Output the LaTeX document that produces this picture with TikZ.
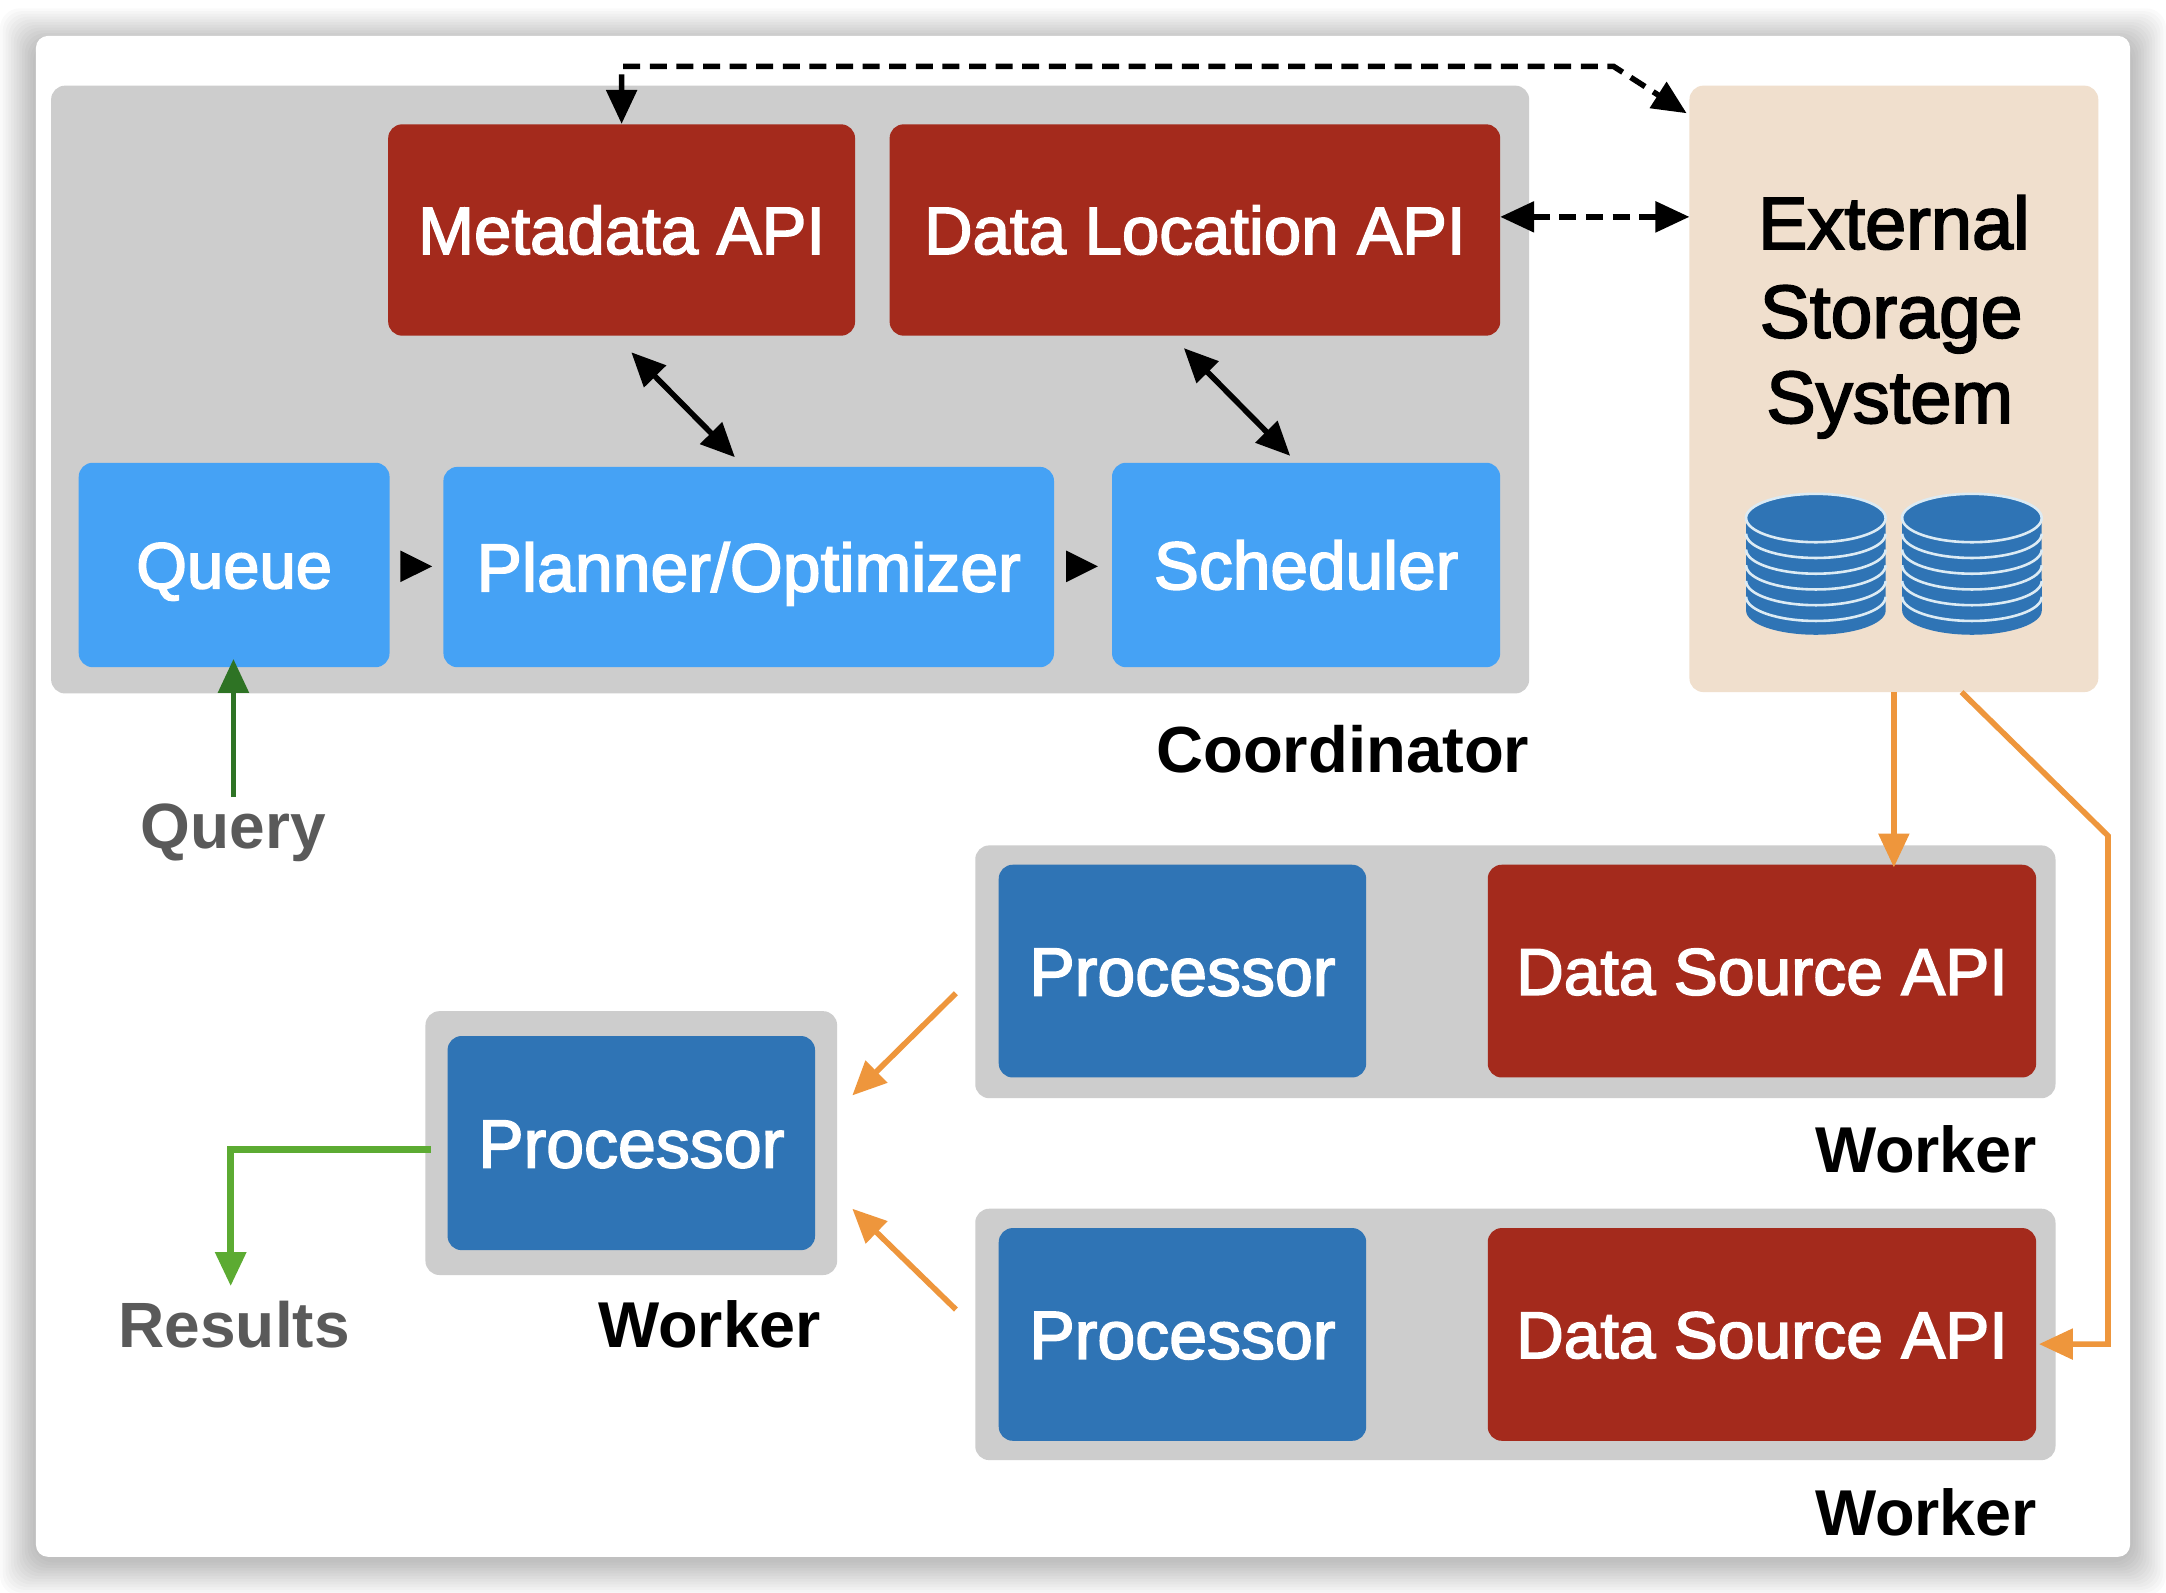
\documentclass[tikz,border=0pt]{standalone}
\usepackage{fontspec}
\setmainfont{Liberation Sans}
\newfontfamily\boxfont[FakeBold=2.4]{Liberation Sans}
\newfontfamily\headfont{Liberation Sans Bold}
\usetikzlibrary{arrows.meta,calc}
\definecolor{panelgray}{HTML}{CDCDCD}
\definecolor{apired}{HTML}{A42A1C}
\definecolor{skyblue}{HTML}{45A2F5}
\definecolor{deepblue}{HTML}{2F74B5}
\definecolor{sand}{HTML}{F0DFCD}
\definecolor{flow}{HTML}{EE963C}
\definecolor{querygreen}{HTML}{2E7324}
\definecolor{resultgreen}{HTML}{5CAB32}
\definecolor{mutedtext}{HTML}{5A5A5A}
\definecolor{diskline}{HTML}{DCEBF4}
\def\u{0.6907pt}
\tikzset{
  x=\u, y=-\u,
  sz/.style 2 args={minimum width=#1*\u, minimum height=#2*\u, inner sep=0pt},
  panel/.style={fill=panelgray, rounded corners=7pt},
  block/.style={rounded corners=7pt, text=white},
  ts/.style={font=\boxfont\fontsize{#1}{40}\selectfont, text height=0.716*#1*1pt, text depth=0pt},
  apibox/.style={block, fill=apired},
  lightbox/.style={block, fill=skyblue},
  procbox/.style={block, fill=deepblue},
  storebox/.style={fill=sand, rounded corners=7pt},
  caption/.style={inner sep=0pt, font=\headfont\fontsize{#1}{38}\selectfont, text height=0.716*#1*1pt, text depth=0pt},
  storetext/.style={inner sep=0pt, ts=#1},
  tip/.tip={Triangle[length=17pt,width=15pt]},
  link/.style={line width=2.8pt, draw=black},
  dashlink/.style={link, dash pattern=on 8.5pt off 4.8pt},
  flowline/.style={line width=2.8pt, draw=flow, -tip},
  diskarc/.style={draw=diskline, line width=1.3pt},
  rim/.style={start angle=#1, delta angle=180, x radius=34.9pt, y radius=12.1pt},
}
\begin{document}
\begin{tikzpicture}
\useasboundingbox (0,0) rectangle (1568,1152.5);
% page and soft card edge
\fill[white] (0,0) rectangle (1568,1152.5);
\foreach \g in {26,24,...,2}{
  \fill[black, opacity=0.018, rounded corners=10pt] (26-\g,32-\g) rectangle (1542+\g,1129+\g);
}
\fill[white, rounded corners=6pt] (26,26) rectangle (1542,1127);

% enclosing panels
\node[panel, sz={1070}{440}] (coord) at (572,282) {};
\node[panel, sz={782}{183}] (wone) at (1097,703.5) {};
\node[panel, sz={782}{182}] (wtwo) at (1097,966) {};
\node[panel, sz={298}{191}] (wthree) at (457,827.5) {};
\node[storebox, sz={296}{439}] (ext) at (1371,281.5) {};

% coordinator blocks
\node[apibox, ts=33.6, sz={338}{153}] (meta) at (450,166.5) {Metadata API};
\node[apibox, ts=33.6, sz={442}{153}] (dloc) at (865,166.5) {Data Location API};
\node[lightbox, ts=32.6, sz={225}{148}] (queue) at (169.5,409) {Queue};
\node[lightbox, ts=34, sz={442}{145}] (plan) at (542,410.5) {Planner/Optimizer};
\node[lightbox, ts=33.8, sz={281}{148}] (sched) at (945.5,409) {Scheduler};

% worker blocks
\node[procbox, ts=34, sz={266}{154}] (pone) at (856,703) {Processor};
\node[apibox, ts=33, sz={397}{154}] (dsone) at (1275.5,703) {Data Source API};
\node[procbox, ts=34, sz={266}{154}] (ptwo) at (856,966) {Processor};
\node[apibox, ts=33, sz={397}{154}] (dstwo) at (1275.5,966) {Data Source API};
\node[procbox, ts=34, sz={266}{155}] (pthree) at (457,827.5) {Processor};

% captions
\node[caption=32.6] (lcoord) at (972,542) {Coordinator};
\node[caption=32.4, anchor=east] (lwone) at (1475,832) {Worker};
\node[caption=32.4, anchor=east] (lwtwo) at (1475,1095) {Worker};
\node[caption=32.4] (lwthree) at (513.5,959) {Worker};
\node[caption=32, text=mutedtext] (lquery) at (169,598) {Query};
\node[caption=32, text=mutedtext] (lresults) at (169.5,959) {Results};

% storage label and disk stacks
\node[storetext=37] (sa) at (1371,161) {External};
\node[storetext=37.5] (sb) at (1369,225) {Storage};
\node[storetext=37] (sc) at (1368,287) {System};
\foreach \cx in {1314.5,1427.5}{
  \fill[deepblue] (\cx-50.5,375) -- (\cx-50.5,442) arc[rim=180] -- (\cx+50.5,375) arc[rim=0] -- cycle;
  \foreach \i in {0,...,5}{
    \draw[diskarc] (\cx-50.5,375+\i*11.4) arc[rim=180];
  }
  \draw[diskarc] (\cx+50.5,375) arc[rim=0];
}

% connector end points
\coordinate (dashturn) at (1168,48);
\coordinate (extupper) at (1221,82);
\coordinate (dlocside) at (1086,157);
\coordinate (extside) at (1223,157);
\coordinate (metalow) at (457,255);
\coordinate (plantop) at (532,331);
\coordinate (dloclow) at (857,252);
\coordinate (schedtop) at (934,330);
\coordinate (qpa) at (290,410);
\coordinate (qpb) at (313,410);
\coordinate (psa) at (773,410);
\coordinate (psb) at (795,410);
\coordinate (querytop) at (169,577);
\coordinate (queuefoot) at (169,477);
\coordinate (resstart) at (312,832);
\coordinate (resend) at (167,931);
\coordinate (flowa) at (1371,501);
\coordinate (flowb) at (1371,628);
\coordinate (flowc) at (1420,501);
\coordinate (flowd) at (1526,605);
\coordinate (flowe) at (1526,973);
\coordinate (flowf) at (1476,973);
\coordinate (pa) at (692,719);
\coordinate (pb) at (617,793);
\coordinate (pc) at (692,948);
\coordinate (pd) at (617,875);

% control and metadata links
\draw[dashlink, tip-tip] (meta.north) -- (meta.north |- dashturn) -- (dashturn) -- (extupper);
\draw[dashlink, tip-tip] (dlocside) -- (extside);
\draw[link, tip-tip] (metalow) -- (plantop);
\draw[link, tip-tip] (dloclow) -- (schedtop);
\draw[link, -{Triangle[length=16pt,width=15pt]}] (qpa) -- (qpb);
\draw[link, -{Triangle[length=16pt,width=15pt]}] (psa) -- (psb);

% query and result links
\draw[line width=2.8pt, querygreen, -tip] (querytop) -- (queuefoot);
\draw[line width=3.2pt, resultgreen, -tip] (resstart) -| (resend);

% data flow links
\draw[flowline] (flowa) -- (flowb);
\draw[flowline] (flowc) -- (flowd) -- (flowe) -- (flowf);
\draw[flowline] (pa) -- (pb);
\draw[flowline] (pc) -- (pd);
\end{tikzpicture}
\end{document}
